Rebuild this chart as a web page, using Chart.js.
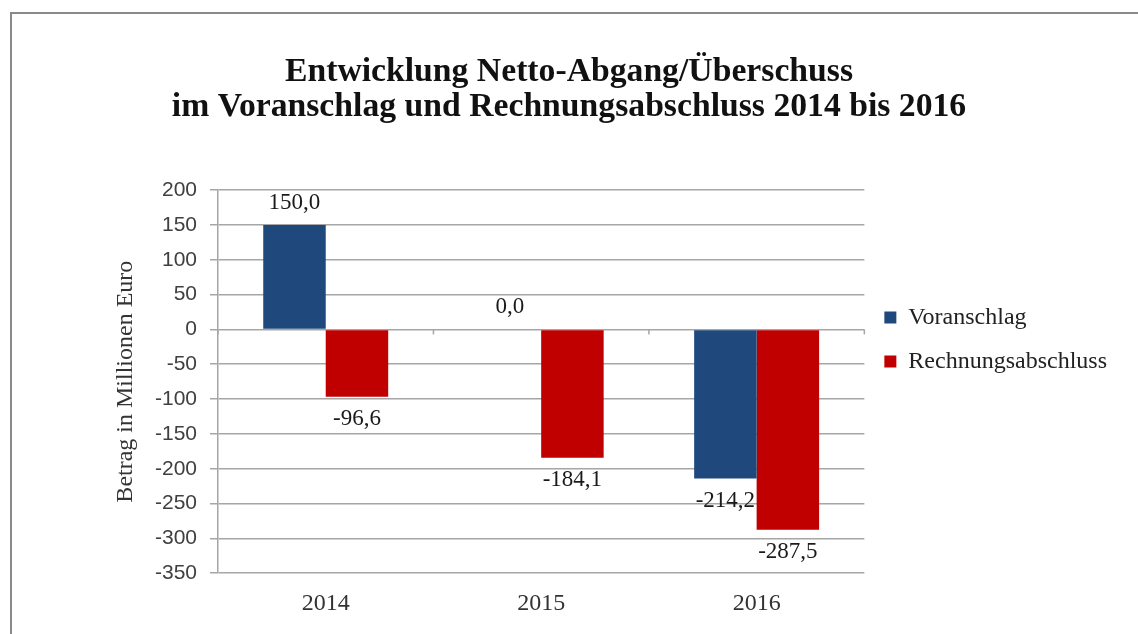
<!DOCTYPE html>
<html>
<head>
<meta charset="utf-8">
<script src="https://cdn.jsdelivr.net/npm/chart.js@4.4.1/dist/chart.umd.min.js"></script>
<style>
  html, body { margin: 0; padding: 0; background: #fff; }
  #wrap { position: relative; width: 1138px; height: 634px; overflow: hidden; }
  #frame { position: absolute; left: 10px; top: 12px; width: 1200px; height: 700px;
           border-left: 2px solid #8a8a8a; border-top: 2px solid #8a8a8a; }
  #chart { position: absolute; left: 0; top: 0; }
</style>
</head>
<body>
<div id="wrap">
  <div id="frame"></div>
  <canvas id="chart" width="1138" height="634"></canvas>
</div>
<script>
const years = ['2014', '2015', '2016'];
const voranschlag = [150.0, 0.0, -214.2];
const rechnungsabschluss = [-96.6, -184.1, -287.5];
const yTicksMin = -350;
const yTicksMax = 200;
const yTickStep = 50;

const serif = '"Liberation Serif", "DejaVu Serif", serif';
const sans = '"Liberation Sans", Arial, sans-serif';
const sidePad = 21;

// German number format, one decimal
function fmt(v) {
    return v.toFixed(1).replace('.', ',');
}

// Value labels above / below each bar
const valueLabels = {
    id: 'valueLabels',
    afterDatasetsDraw(chart) {
        const ctx = chart.ctx;
        ctx.save();
        ctx.font = '23px ' + serif;
        ctx.fillStyle = '#1a1a1a';
        ctx.textAlign = 'center';
        ctx.textBaseline = 'middle';
        chart.data.datasets.forEach((ds, i) => {
            chart.getDatasetMeta(i).data.forEach((bar, j) => {
                const v = ds.data[j];
                const y = v >= 0 ? bar.y - 22 : bar.y + 22;
                ctx.fillText(fmt(v), bar.x, y);
            });
        });
        ctx.restore();
    }
};

// Small tick marks on the zero line at the category boundaries
const zeroTicks = {
    id: 'zeroTicks',
    afterDatasetsDraw(chart) {
        const x = chart.scales.x;
        const y0 = chart.scales.y.getPixelForValue(0);
        const ctx = chart.ctx;
        ctx.save();
        ctx.strokeStyle = '#a6a6a6';
        ctx.lineWidth = 1.5;
        for (let i = 0; i <= years.length; i++) {
            const px = x.getPixelForValue(i - 0.5);
            ctx.beginPath();
            ctx.moveTo(px, y0);
            ctx.lineTo(px, y0 + 5);
            ctx.stroke();
        }
        ctx.restore();
    }
};

new Chart(document.getElementById('chart'), {
    type: 'bar',
    data: {
        labels: years,
        datasets: [
            { label: 'Voranschlag', data: voranschlag, backgroundColor: '#1f497d' },
            { label: 'Rechnungsabschluss', data: rechnungsabschluss, backgroundColor: '#c00000' }
        ]
    },
    options: {
        responsive: false,
        animation: false,
        layout: { padding: { left: sidePad, right: sidePad, top: 0, bottom: 0 } },
        datasets: {
            bar: { categoryPercentage: 0.58, barPercentage: 1.0 }
        },
        plugins: {
            title: {
                display: true,
                text: ['Entwicklung Netto-Abgang/Überschuss', 'im Voranschlag und Rechnungsabschluss 2014 bis 2016'],
                font: { family: serif, size: 33.7, weight: 'bold', lineHeight: 1.04 },
                color: '#111',
                padding: { top: 55, bottom: 65 }
            },
            legend: {
                position: 'right',
                align: 'start',
                fullSize: false,
                title: {
                    display: true,
                    text: ' ',
                    font: { size: 22 },
                    padding: { top: 69, bottom: 0 }
                },
                labels: {
                    font: { family: serif, size: 24 },
                    color: '#222',
                    boxWidth: 12,
                    boxHeight: 12,
                    padding: 20
                }
            },
            tooltip: { enabled: false }
        },
        scales: {
            x: {
                grid: { display: false, drawTicks: false },
                border: { display: false },
                ticks: {
                    font: { family: serif, size: 24 },
                    color: '#333',
                    padding: 16
                }
            },
            y: {
                min: yTicksMin,
                max: yTicksMax,
                grid: { color: '#a6a6a6', lineWidth: 1.5, tickLength: 8 },
                border: { display: true, color: '#a6a6a6', width: 1.5 },
                ticks: {
                    stepSize: yTickStep,
                    font: { family: sans, size: 21 },
                    color: '#404040',
                    padding: 13
                },
                title: {
                    display: true,
                    text: 'Betrag in Millionen Euro',
                    font: { family: serif, size: 24 },
                    color: '#333',
                    padding: { top: 125 - sidePad - 14, bottom: 0 }
                },
                afterFit(scale) {
                    scale.width = 218 - sidePad;
                }
            }
        }
    },
    plugins: [valueLabels, zeroTicks]
});
</script>
</body>
</html>
